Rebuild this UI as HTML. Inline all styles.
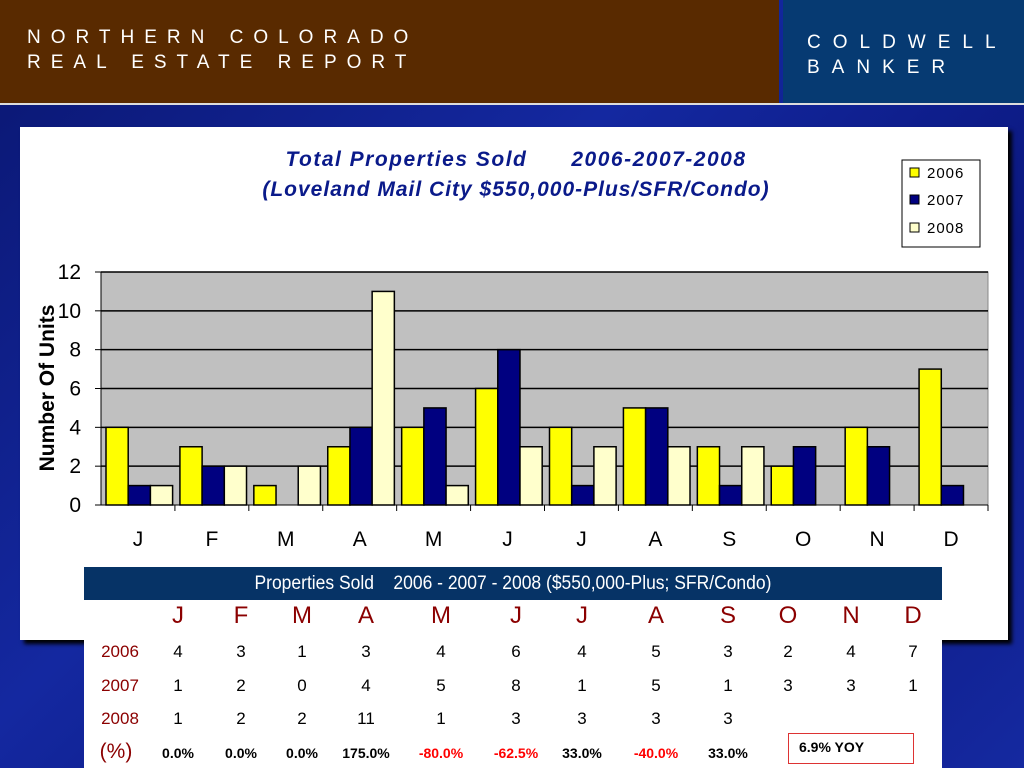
<!DOCTYPE html>
<html><head><meta charset="utf-8"><style>
body{margin:0;width:1024px;height:768px;overflow:hidden;font-family:"Liberation Sans",sans-serif;background:linear-gradient(135deg,#0a1670,#1428a0 40%,#0b1880 70%,#1529a0);position:relative}
.abs{position:absolute}
.hdr{font-size:19px;letter-spacing:10px;color:#fff;line-height:25px}
</style></head><body>
<div class="abs" style="left:0;top:0;width:779px;height:103px;background:#592a00"></div>
<div class="abs" style="left:783px;top:0;width:241px;height:103px;background:#063a72"></div>
<div class="abs" style="left:0;top:103px;width:1024px;height:2px;background:#ddd"></div>
<div class="abs hdr" style="left:27px;top:25px">NORTHERN COLORADO<br>REAL ESTATE REPORT</div>
<div class="abs hdr" style="left:807px;top:30px;letter-spacing:12px">COLDWELL<br>BANKER</div>
<div class="abs" style="left:20px;top:127px;width:988px;height:513px;background:#fff;box-shadow:4px 4px 4px #000"></div>
<svg class="abs" style="left:0;top:0" width="1024" height="768" id="chart">
<text x="516" y="166" text-anchor="middle" font-size="21" font-weight="bold" font-style="italic" fill="#0a1a8a" letter-spacing="1.5" xml:space="preserve">Total Properties Sold      2006-2007-2008</text>
<text x="516" y="196" text-anchor="middle" font-size="21" font-weight="bold" font-style="italic" fill="#0a1a8a" letter-spacing="1">(Loveland Mail City $550,000-Plus/SFR/Condo)</text>
<text transform="translate(54,388) rotate(-90)" text-anchor="middle" font-size="21" font-weight="bold" fill="#000">Number Of Units</text>
<g>
<rect x="902" y="160" width="78" height="87" fill="#fff" stroke="#000"/>
<rect x="910" y="168" width="9" height="9" fill="#ffff00" stroke="#000"/><text x="927" y="178" font-size="15" letter-spacing="1">2006</text>
<rect x="910" y="195" width="9" height="9" fill="#000080" stroke="#000"/><text x="927" y="205" font-size="15" letter-spacing="1">2007</text>
<rect x="910" y="223" width="9" height="9" fill="#ffffcc" stroke="#000"/><text x="927" y="233" font-size="15" letter-spacing="1">2008</text>
</g>
</svg>
<div class="abs" style="left:84px;top:567px;width:858px;height:201px;background:#fff"></div>
<div class="abs" style="left:84px;top:567px;width:858px;height:33px;background:#063366;color:#fff;font-size:19px;text-align:center;line-height:34px;white-space:pre"><span style="display:inline-block;transform:scaleX(0.92)">Properties Sold    2006 - 2007 - 2008 ($550,000-Plus; SFR/Condo)</span></div>
<div class="abs" style="left:788px;top:733px;width:126px;height:31px;border:1px solid #d33;font-size:14px;font-weight:bold;box-sizing:border-box;padding:5px 0 0 10px">6.9% YOY</div>
<div id="tbl"></div>
<script>
const months=['J','F','M','A','M','J','J','A','S','O','N','D'];
const s2006=[4,3,1,3,4,6,4,5,3,2,4,7];
const s2007=[1,2,0,4,5,8,1,5,1,3,3,1];
const s2008=[1,2,2,11,1,3,3,3,3,null,null,null];
const pct=['0.0%','0.0%','0.0%','175.0%','-80.0%','-62.5%','33.0%','-40.0%','33.0%'];
const yTicks=[0,2,4,6,8,10,12];
const NS='http://www.w3.org/2000/svg';
const svg=document.getElementById('chart');
const L=101,R=988,T=272,B=505,yMax=12;
const y=v=>B-(v/yMax)*(B-T);
const cw=(R-L)/months.length;
function mk(t,a,p){const e=document.createElementNS(NS,t);for(const k in a)e.setAttribute(k,a[k]);(p||svg).appendChild(e);return e;}
const plot=mk('rect',{x:L,y:T,width:R-L,height:B-T,fill:'#c0c0c0',stroke:'#888'});


yTicks.forEach(t=>{
 if(t>0){const g=mk('line',{x1:L,x2:R,y1:y(t),y2:y(t),stroke:'#000','stroke-width':1.5});
 
 }
 mk('line',{x1:L-6,x2:L,y1:y(t),y2:y(t),stroke:'#000'});
 const tx=mk('text',{x:L-20,y:y(t)+7,'text-anchor':'end','font-size':21});tx.textContent=t;
 
 
});
mk('line',{x1:L,x2:L,y1:T,y2:B,stroke:'#000'});
mk('line',{x1:L,x2:R,y1:B,y2:B,stroke:'#000'});
const series=[[s2006,'#ffff00'],[s2007,'#000080'],[s2008,'#ffffcc']];
const bw=22.2;
months.forEach((m,i)=>{
 const x0=L+i*cw+5;
 series.forEach(([d,c],j)=>{
  if(d[i]==null)return;
  const r=mk('rect',{x:x0+j*bw,y:y(d[i]),width:bw,height:B-y(d[i]),fill:c,stroke:'#000','stroke-width':1.5});
  
  
 });
 mk('line',{x1:L+(i+1)*cw,x2:L+(i+1)*cw,y1:B,y2:B+6,stroke:'#000'});
 const tx=mk('text',{x:L+(i+.5)*cw,y:546,'text-anchor':'middle','font-size':21});tx.textContent=m;
 
 
});
const tbl=document.getElementById('tbl');
const colX=[178,241,302,366,441,516,582,656,728,788,851,913];
function cell(txt,x,yy,st){const d=document.createElement('div');d.className='abs';d.style.cssText=`left:${x-40}px;top:${yy}px;width:80px;text-align:center;${st}`;d.textContent=txt;tbl.appendChild(d);return d;}
months.forEach((m,i)=>{const c=cell(m,colX[i],602,'font-size:24px;color:#8b0000');
 
 });
const rows=[['2006',s2006,642],['2007',s2007,676],['2008',s2008,709]];
rows.forEach(([lab,d,yy])=>{
 const l=cell(lab,120,yy,'font-size:17px;color:#8b0000');
 
 
 d.forEach((v,i)=>{if(v==null)return;const c=cell(v,colX[i],yy,'font-size:17px;color:#000');
 
 });
});
const pl=cell('(%)',116,740,'font-size:21px;color:#8b0000');


pct.forEach((p,i)=>{const c=cell(p,colX[i],745,'font-size:14px;font-weight:bold;color:'+(p[0]=='-'?'#f00':'#000'));
 
 });
</script>
</body></html>
